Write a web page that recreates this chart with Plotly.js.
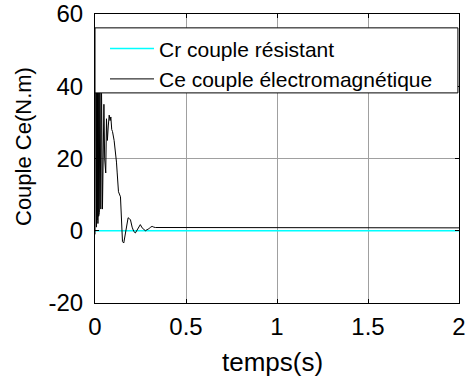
<!DOCTYPE html>
<html>
<head>
<meta charset="utf-8">
<script src="https://cdn.plot.ly/plotly-3.0.1.min.js"></script>
<style>html,body{margin:0;padding:0;background:#fff;}#chart{width:469px;height:380px;}</style>
</head>
<body>
<div id="chart"></div>
<script>
// Time (s) and torque values (N.m)
const tCr = [0, 2];
const Cr = [0, 0];

const tCe = [0, 0.002, 0.004, 0.006, 0.008, 0.010, 0.012, 0.014, 0.016, 0.018,
             0.020, 0.022, 0.024, 0.026, 0.028, 0.030, 0.032, 0.034,
             0.036, 0.041, 0.049, 0.053, 0.059, 0.063, 0.068, 0.073, 0.078, 0.083,
             0.087, 0.092, 0.096, 0.105, 0.112, 0.118, 0.122, 0.129, 0.140, 0.145,
             0.151, 0.158, 0.163, 0.169, 0.177, 0.182, 0.188, 0.195, 0.204, 0.213,
             0.222, 0.231, 0.240, 0.249, 0.259, 0.268, 0.277, 0.286, 0.295, 0.305,
             0.314, 0.323, 0.332, 2.0];
const Ce = [-1, 50, 0, 48, 1, 52, 3, 46, 2, 49,
            4, 44, 5, 47, 8, 45, 6, 40,
            38, 6, 35, 20, 16, 31, 25, 29, 32, 30.5,
            31.5, 28, 27.5, 25, 22.4, 19, 16, 10.8, 9.4, 1.7,
            -3, -3.4, -2, -0.3, 1.7, 3.6, 3.4, 3.0, 1.0, -0.2,
            -0.6, 0.2, 0.7, 1.7, 0.8, 0.3, 0, 0.3, 0.5, 1.0,
            1.2, 1.0, 0.9, 0.8];

const xTickVals = [0, 0.5, 1, 1.5, 2];
const xTickText = ['0', '0.5', '1', '1.5', '2'];
const yTickVals = [-20, 0, 20, 40, 60];
const yTickText = ['-20', '0', '20', '40', '60'];

const seriesNames = ['Cr couple résistant', 'Ce couple électromagnétique'];
const xTitle = 'temps(s)';
const yTitle = 'Couple Ce(N.m)';

const FONT = 'Liberation Sans, Arial, sans-serif';

const data = [
  {x: tCr, y: Cr, type: 'scatter', mode: 'lines', name: seriesNames[0],
   line: {color: '#00ffff', width: 1.5}, legendrank: 1},
  {x: tCe, y: Ce, type: 'scatter', mode: 'lines', name: seriesNames[1],
   line: {color: '#000000', width: 1}, legendrank: 2}
];

const axisCommon = {
  showline: true, linecolor: '#000', linewidth: 1, mirror: 'ticks',
  ticks: 'inside', ticklen: 4, tickcolor: '#000', tickwidth: 1,
  showgrid: true, gridcolor: '#a0a0a0', gridwidth: 1, zeroline: false,
  tickfont: {family: FONT, size: 24, color: '#000'}
};

const layout = {
  width: 469, height: 380,
  margin: {l: 95, r: 10, t: 14, b: 77},
  paper_bgcolor: '#fff', plot_bgcolor: '#fff',
  showlegend: true,
  xaxis: Object.assign({}, axisCommon, {
    range: [0, 2], tickmode: 'array', tickvals: xTickVals, ticktext: xTickText,
    ticklabelstandoff: 2
  }),
  yaxis: Object.assign({}, axisCommon, {
    range: [-20, 60], tickmode: 'array', tickvals: yTickVals, ticktext: yTickText,
    ticklabelstandoff: 6
  }),
  annotations: [
    {text: xTitle, xref: 'paper', yref: 'paper', x: 0.488, y: -0.204,
     xanchor: 'center', yanchor: 'middle', showarrow: false,
     font: {family: FONT, size: 26, color: '#000'}},
    {text: yTitle, xref: 'paper', yref: 'paper', x: -0.198, y: 0.543,
     xanchor: 'center', yanchor: 'middle', showarrow: false, textangle: -90,
     font: {family: FONT, size: 22, color: '#000'}}
  ],
  shapes: [{
    type: 'rect', xref: 'paper', yref: 'paper', layer: 'above',
    x0: 0, x1: 0.997, y0: 0.727, y1: 0.952,
    fillcolor: '#fff', line: {color: '#000', width: 1}
  }],
  legend: {
    x: 0.0275, y: 0.95, xanchor: 'left', yanchor: 'top',
    bgcolor: 'rgba(0,0,0,0)', borderwidth: 0,
    font: {family: FONT, size: 21, color: '#000'},
    itemwidth: 44, tracegroupgap: 0
  }
};

Plotly.newPlot('chart', data, layout, {displayModeBar: false, staticPlot: true});
</script>
</body>
</html>
